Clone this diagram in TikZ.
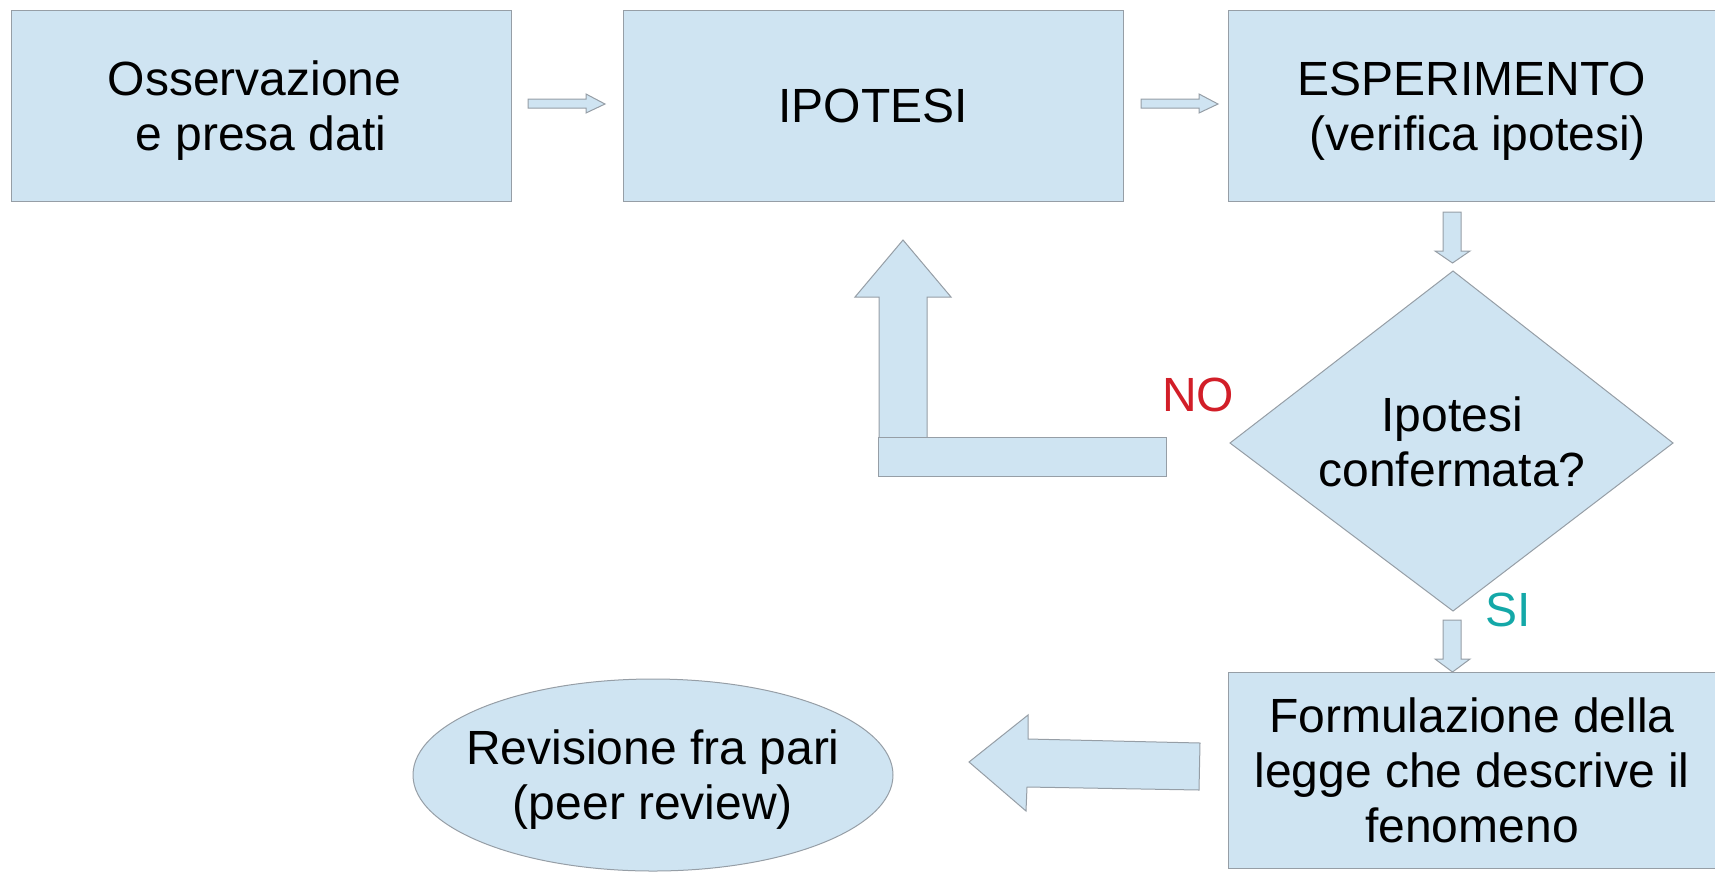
\documentclass[tikz,border=0pt]{standalone}
\usepackage{fontspec}
\setmainfont{Liberation Sans}
\usetikzlibrary{shapes.geometric}
\definecolor{boxfill}{RGB}{207,228,242}
\definecolor{boxline}{RGB}{150,158,166}
\definecolor{nored}{RGB}{210,30,40}
\definecolor{siteal}{RGB}{20,168,168}
\begin{document}
\begin{tikzpicture}[x=1pt,y=-1pt,
  box/.style={draw=boxline, fill=boxfill, line width=1pt, inner sep=0pt, align=center,
              font=\fontsize{48}{55}\selectfont},
  lbl/.style={font=\fontsize{48}{55}\selectfont, align=center, inner sep=0pt},
  barrow/.style={draw=boxline, fill=boxfill, line width=1pt, line join=miter}]
\useasboundingbox (0,0) rectangle (1715,871);

% boxes
\node[box, minimum width=500pt, minimum height=191pt] (obs) at (261,105.5) {};
\node[lbl] (obst) at (261,111) {Osservazione\hspace*{13pt}\\e presa dati};
\node[box, minimum width=500pt, minimum height=191pt] (ipo) at (873,105.5) {IPOTESI};
\node[box, minimum width=488pt, minimum height=191pt] (esp) at (1472,105.5) {};
\node[lbl] (espt) at (1472,111) {ESPERIMENTO\\\hspace*{12pt}(verifica ipotesi)};
\node[box, minimum width=488pt, minimum height=196pt] (form) at (1472,770) {Formulazione della\\legge che descrive il\\fenomeno};
\node[box, ellipse, minimum width=480pt, minimum height=192pt] (rev) at (653,775) {};
\node[lbl] (revt) at (653,780) {Revisione fra pari\\(peer review)};

% decision diamond
\path[barrow] (1453,271) -- (1673,443) -- (1453,611) -- (1230,443) -- cycle;
\node[lbl] (conf) at (1452,442) {Ipotesi\\confermata?};

% block arrows
\path[barrow] (528,99) -- (586,99) -- (586,94) -- (605,104) -- (586,113) -- (586,108) -- (528,108) -- cycle;
\path[barrow] (1141,99) -- (1199,99) -- (1199,94) -- (1218,104) -- (1199,113) -- (1199,108) -- (1141,108) -- cycle;
\path[barrow] (1443,212) -- (1461,212) -- (1461,251) -- (1470,251) -- (1452.5,263) -- (1435,251) -- (1443,251) -- cycle;
\path[barrow] (1443,620) -- (1461,620) -- (1461,659) -- (1470,659) -- (1452.5,672) -- (1435,659) -- (1443,659) -- cycle;
\path[barrow] (879,440) -- (879,297) -- (855,297) -- (903,240) -- (951,297) -- (927,297) -- (927,440) -- cycle;
\path[barrow] (878,437) rectangle (1166,476);
\path[barrow] (969,762) -- (1028,715) -- (1028,739) -- (1200,743) -- (1199,790) -- (1027,787) -- (1026,811) -- cycle;

% labels
\node[lbl, text=nored] (no) at (1198,395) {NO};
\node[lbl, text=siteal] (si) at (1508,610) {SI};
\end{tikzpicture}
\end{document}
